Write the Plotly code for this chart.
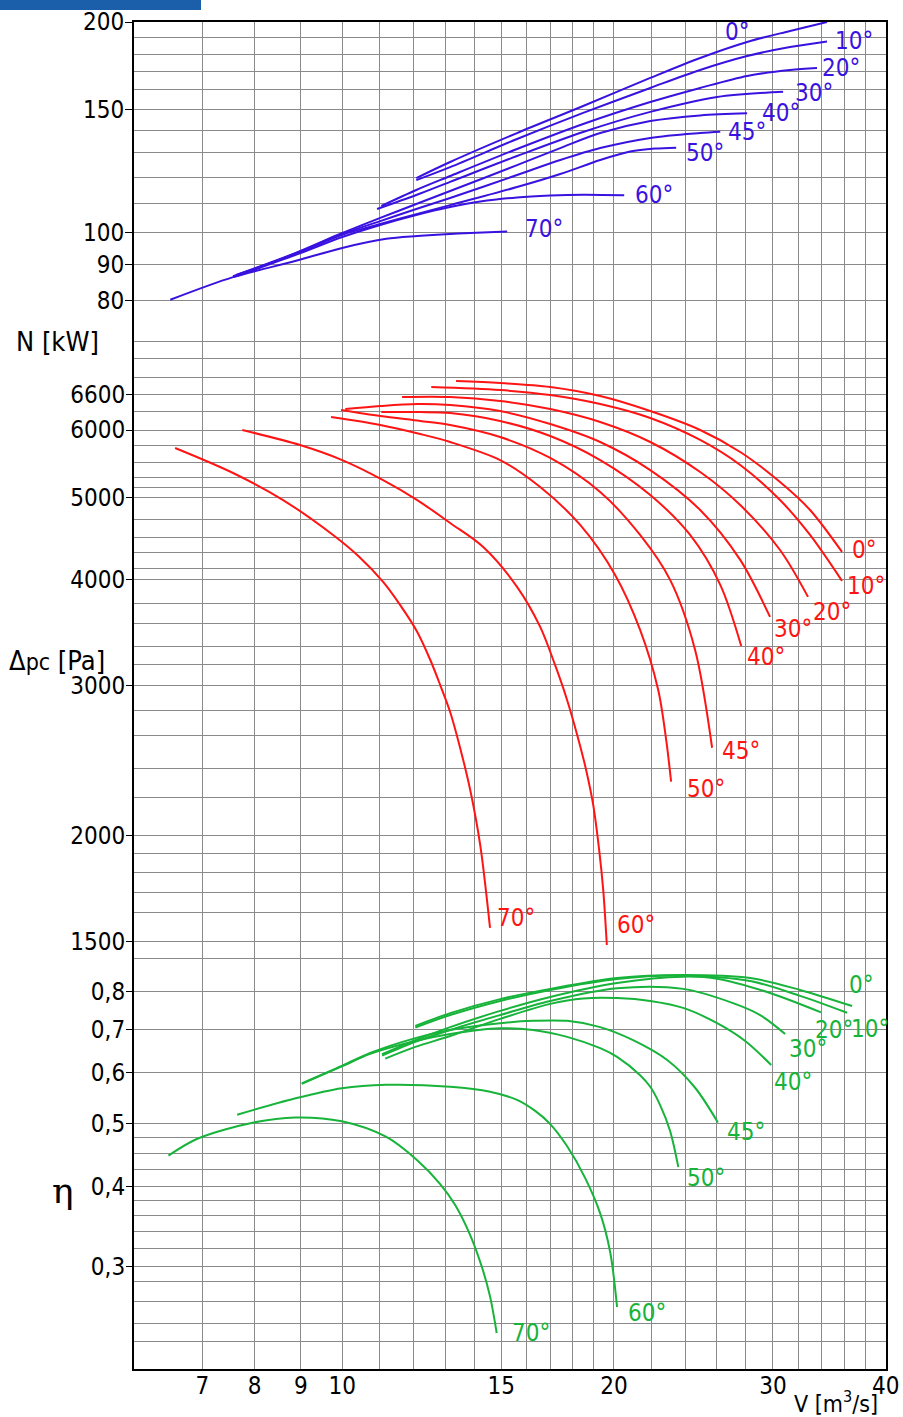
import math
import plotly.graph_objects as go

# ---------------- data ----------------
ANGLES = ["0°", "10°", "20°", "30°", "40°", "45°", "50°", "60°", "70°"]

# Power N [kW] vs V [m3/s]
N00_V = [12.08, 13.17, 15.62, 18.49, 21.94, 24.92, 28.09, 31.34, 34.44]
N00_kW = [119.7, 126.2, 138.8, 151.7, 166.4, 177.7, 187.3, 194.2, 200.0]
N10_V = [12.08, 13.17, 15.62, 18.49, 21.94, 24.92, 28.09, 31.34, 34.44]
N10_kW = [118.9, 124.1, 136.1, 148.3, 161.0, 170.8, 178.8, 184.2, 187.6]
N20_V = [11.05, 12.08, 13.17, 15.62, 18.49, 21.94, 24.92, 28.09, 31.34, 33.57]
N20_kW = [109.2, 115.1, 120.5, 131.7, 143.0, 153.7, 161.0, 167.5, 170.8, 171.9]
N30_V = [10.93, 12.08, 13.17, 15.62, 18.49, 21.94, 26.02, 30.79]
N30_kW = [108.1, 113.2, 118.2, 128.7, 139.3, 148.8, 156.3, 159.0]
N40_V = [7.63, 8.87, 10.0, 11.02, 12.08, 13.17, 15.62, 17.44, 19.31, 21.94, 24.92, 28.09]
N40_kW = [87.0, 93.5, 99.9, 105.0, 109.9, 114.7, 124.9, 132.1, 138.8, 144.4, 147.1, 148.1]
N45_V = [7.63, 8.87, 10.0, 11.02, 12.08, 13.17, 15.62, 17.44, 19.31, 21.94, 24.92, 26.23]
N45_kW = [86.7, 93.4, 99.6, 103.9, 108.1, 112.1, 120.9, 127.0, 132.1, 136.6, 138.8, 139.4]
N50_V = [7.57, 8.87, 10.0, 11.02, 12.08, 13.17, 15.62, 17.44, 19.31, 20.84, 22.21, 23.44]
N50_kW = [86.7, 93.2, 99.3, 102.9, 106.3, 109.5, 116.2, 121.3, 127.0, 130.6, 131.9, 132.3]
N60_V = [7.57, 8.87, 10.0, 11.02, 12.08, 13.17, 14.22, 15.62, 17.0, 18.49, 20.53]
N60_kW = [86.4, 92.9, 98.6, 102.6, 106.0, 108.8, 110.8, 112.3, 113.0, 113.3, 113.1]
N70_V = [6.45, 7.57, 8.87, 10.0, 11.19, 12.11, 13.17, 13.86, 15.23]
N70_kW = [80.2, 86.4, 91.1, 95.1, 98.0, 98.9, 99.6, 99.9, 100.4]

# Total pressure dpc [Pa] vs V [m3/s]
P00_V = [13.37, 14.96, 17.0, 19.31, 21.94, 24.92, 27.6, 30.55, 32.98, 35.78]
P00_Pa = [6851, 6814, 6740, 6578, 6316, 6000, 5653, 5211, 4831, 4312]
P10_V = [12.55, 14.96, 17.0, 19.31, 21.94, 24.92, 27.6, 30.55, 32.98, 35.78]
P10_Pa = [6740, 6686, 6596, 6437, 6198, 5840, 5457, 4963, 4515, 3987]
P20_V = [11.65, 13.17, 14.96, 17.0, 19.31, 21.94, 24.92, 27.6, 30.55, 32.81]
P20_Pa = [6560, 6560, 6490, 6350, 6131, 5808, 5354, 4896, 4335, 3818]
P30_V = [10.08, 11.02, 12.11, 13.17, 14.96, 17.0, 19.31, 21.94, 24.92, 27.6, 29.78]
P30_Pa = [6350, 6402, 6437, 6419, 6316, 6098, 5808, 5383, 4831, 4220, 3616]
P40_V = [11.05, 12.2, 13.17, 14.96, 17.0, 19.31, 21.94, 24.29, 26.23, 27.67]
P40_Pa = [6299, 6299, 6282, 6148, 5903, 5531, 5031, 4515, 3944, 3343]
P45_V = [9.97, 11.02, 12.2, 13.17, 14.96, 17.0, 19.31, 21.38, 23.08, 24.6, 25.69]
P45_Pa = [6333, 6231, 6148, 6082, 5887, 5562, 5072, 4515, 3998, 3307, 2537]
P50_V = [9.72, 11.02, 12.2, 13.17, 14.96, 16.57, 18.35, 20.06, 21.38, 22.39, 22.85, 23.14]
P50_Pa = [6214, 6082, 5935, 5808, 5531, 5141, 4639, 4052, 3491, 2967, 2592, 2314]
P60_V = [7.75, 8.98, 10.0, 11.1, 12.11, 13.17, 14.33, 15.62, 16.57, 17.21, 17.75, 18.21,
         18.63, 18.97, 19.26, 19.46, 19.64]
P60_Pa = [6000, 5761, 5531, 5239, 4963, 4664, 4370, 3923, 3520, 3175, 2886, 2627,
          2389, 2173, 1923, 1726, 1487]
P70_V = [6.53, 7.57, 8.6, 9.77, 10.42, 11.1, 11.59, 12.11, 12.52, 12.84, 13.17, 13.51, 13.86, 14.22, 14.58]
P70_Pa = [5714, 5340, 4963, 4515, 4265, 3976, 3736, 3472, 3218, 3007, 2795, 2536, 2264, 1949, 1557]

# Efficiency eta vs V [m3/s]
E00_V = [12.05, 13.17, 14.96, 17.0, 20.16, 23.86, 28.31, 32.15, 36.72]
E00 = [0.708, 0.741, 0.779, 0.808, 0.840, 0.849, 0.840, 0.805, 0.760]
E10_V = [12.05, 13.17, 14.96, 17.0, 20.16, 23.86, 28.31, 32.15, 36.25]
E10 = [0.704, 0.736, 0.774, 0.805, 0.837, 0.847, 0.831, 0.788, 0.742]
E20_V = [11.07, 12.05, 13.17, 14.96, 17.0, 20.16, 23.86, 26.02, 29.56, 33.92]
E20 = [0.640, 0.673, 0.705, 0.747, 0.785, 0.825, 0.844, 0.838, 0.799, 0.743]
E30_V = [11.07, 12.05, 13.17, 14.96, 17.0, 20.16, 23.86, 27.1, 29.04, 30.95]
E30 = [0.637, 0.669, 0.698, 0.736, 0.774, 0.810, 0.808, 0.768, 0.736, 0.688]
E40_V = [11.16, 12.05, 13.17, 14.96, 17.0, 18.49, 20.16, 21.94, 23.86, 26.02, 27.95, 29.87]
E40 = [0.630, 0.657, 0.683, 0.726, 0.766, 0.781, 0.782, 0.774, 0.755, 0.715, 0.671, 0.616]
E45_V = [9.02, 9.99, 10.74, 12.05, 13.17, 14.96, 16.27, 17.75, 19.31, 21.0, 22.91, 24.6, 26.07]
E45 = [0.577, 0.614, 0.643, 0.678, 0.698, 0.715, 0.721, 0.721, 0.705, 0.673, 0.627, 0.568, 0.502]
E50_V = [9.02, 9.99, 10.74, 12.05, 13.17, 14.96, 16.27, 17.75, 19.31, 20.16, 21.38, 21.94, 22.50,
         23.08, 23.57]
E50 = [0.576, 0.613, 0.641, 0.671, 0.688, 0.702, 0.698, 0.681, 0.654, 0.634, 0.594, 0.570, 0.534,
       0.487, 0.428]
E60_V = [7.65, 8.88, 9.99, 11.18, 13.17, 14.58, 15.62, 16.36, 17.0, 17.75, 18.58, 19.31, 19.81, 20.16]
E60 = [0.516, 0.547, 0.567, 0.574, 0.570, 0.560, 0.544, 0.523, 0.499, 0.461, 0.412, 0.363, 0.316, 0.260]
E70_V = [6.42, 6.92, 7.98, 8.88, 9.99, 11.18, 12.10, 12.84, 13.34, 13.86, 14.29, 14.58, 14.83]
E70 = [0.446, 0.474, 0.502, 0.511, 0.504, 0.477, 0.439, 0.403, 0.374, 0.336, 0.299, 0.270, 0.237]

# Axis ticks
X_TICKS = [7, 8, 9, 10, 15, 20, 30, 40]
X_MINOR = [11, 12, 13, 14, 16, 17, 18, 19, 22, 24, 26, 28, 32, 34, 36, 38]
N_TICKS = [80, 90, 100, 150, 200]
N_MINOR = [70, 110, 120, 130, 140, 160, 170, 180, 190]
P_TICKS = [1500, 2000, 3000, 4000, 5000, 6000, 6600]
P_MINOR = [1435, 1625, 1715, 1810, 1905, 2215, 2400, 2620, 2810, 3175, 3340, 3550,
           3750, 4120, 4310, 4490, 4710, 5130, 5270, 5500, 5750, 6300, 6920, 7280]
E_TICKS = [0.3, 0.4, 0.5, 0.6, 0.7, 0.8]
E_TICKTEXT = ["0,3", "0,4", "0,5", "0,6", "0,7", "0,8"]
E_MINOR = [0.23, 0.245, 0.265, 0.285, 0.32, 0.34, 0.36, 0.38, 0.425, 0.45, 0.475]

# ---------------- tables built from the arrays ----------------
N_SERIES = [(N00_V, N00_kW), (N10_V, N10_kW), (N20_V, N20_kW), (N30_V, N30_kW), (N40_V, N40_kW),
            (N45_V, N45_kW), (N50_V, N50_kW), (N60_V, N60_kW), (N70_V, N70_kW)]
P_SERIES = [(P00_V, P00_Pa), (P10_V, P10_Pa), (P20_V, P20_Pa), (P30_V, P30_Pa), (P40_V, P40_Pa),
            (P45_V, P45_Pa), (P50_V, P50_Pa), (P60_V, P60_Pa), (P70_V, P70_Pa)]
E_SERIES = [(E00_V, E00), (E10_V, E10), (E20_V, E20), (E30_V, E30), (E40_V, E40),
            (E45_V, E45), (E50_V, E50), (E60_V, E60), (E70_V, E70)]

# ---------------- styles ----------------
FONT = "DejaVu Sans Condensed, Liberation Sans Narrow, Arial Narrow, Liberation Sans, sans-serif"
BLUE = "#3a12e0"
RED = "#ff1414"
GREEN = "#17b33a"
GRID = "#8a8a8a"

# label offsets (xanchor, xshift px, yshift px) relative to each curve's last point
N_LAB = [("center", -90, -10), ("left", 6, 0), ("left", 3, 0), ("left", 10, -1), ("left", 13, 0),
         ("left", 6, 0), ("left", 8, -5), ("left", 9, 0), ("left", 16, 3)]
P_LAB = [("left", 8, 2), ("left", 3, -5), ("left", 3, -15), ("left", 2, -12), ("left", 4, -11),
         ("left", 8, -3), ("left", 14, -7), ("left", 8, 20), ("left", 5, 10)]
E_LAB = [("left", -5, 21), ("left", 2, -16), ("left", -8, -18), ("left", 2, -15), ("left", 1, -17),
         ("left", 7, -10), ("left", 7, -11), ("left", 9, -6), ("left", 13, 0)]

fig = go.Figure()
annotations = []


def add_group(series, labs, color, yref):
    for (xs, ys), ang, (xa, dx, dy) in zip(series, ANGLES, labs):
        fig.add_trace(go.Scatter(
            x=xs, y=ys, mode="lines", yaxis=yref,
            line=dict(color=color, width=2, shape="spline", smoothing=0.9),
            hoverinfo="skip", showlegend=False))
        annotations.append(dict(
            x=math.log10(xs[-1]), y=math.log10(ys[-1]), xref="x", yref=yref,
            text=ang, showarrow=False, xanchor=xa, yanchor="middle",
            xshift=dx, yshift=dy, font=dict(family=FONT, size=24, color=color)))


add_group(N_SERIES, N_LAB, BLUE, "y")
add_group(P_SERIES, P_LAB, RED, "y2")
add_group(E_SERIES, E_LAB, GREEN, "y3")

# plot area: 134..886 px wide, 22..1369 px high
W, H = 903, 1417
ML, MR, MT, MB = 134, 17, 22, 48
PH = H - MT - MB

tickfont = dict(family=FONT, size=24, color="black")
common_y = dict(type="log", showgrid=True, gridcolor=GRID, gridwidth=1,
                ticks="outside", ticklen=7, tickcolor="black", tickfont=tickfont,
                zeroline=False, fixedrange=True, automargin=False)

# each axis spans the whole height; ranges chosen so its band sits where the picture has it
fig.update_layout(
    width=W, height=H,
    margin=dict(l=ML, r=MR, t=MT, b=MB, autoexpand=False),
    paper_bgcolor="white", plot_bgcolor="white",
    xaxis=dict(type="log", range=[math.log10(5.88), math.log10(40.03)],
               tickvals=X_TICKS, ticktext=[str(v) for v in X_TICKS],
               showgrid=True, gridcolor=GRID, gridwidth=1,
               minor=dict(tickvals=X_MINOR, showgrid=True, gridcolor=GRID, gridwidth=1, ticks=""),
               ticks="", tickfont=tickfont, showline=True, linecolor="black", linewidth=2,
               mirror=True, zeroline=False, automargin=False, fixedrange=True),
    yaxis=dict(range=[2.30103 - PH / 700.0, 2.30103], tickvals=N_TICKS,
               ticktext=[str(v) for v in N_TICKS],
               minor=dict(tickvals=N_MINOR, showgrid=True, gridcolor=GRID, gridwidth=1, ticks=""),
               showline=True, linecolor="black", linewidth=2, mirror=True, **common_y),
    yaxis2=dict(range=[math.log10(6000) - (PH - 408) / 850.0, math.log10(6000) + 408 / 850.0],
                tickvals=P_TICKS, ticktext=[str(v) for v in P_TICKS],
                minor=dict(tickvals=P_MINOR, showgrid=True, gridcolor=GRID, gridwidth=1, ticks=""),
                overlaying="y", side="left", showline=False, **common_y),
    yaxis3=dict(range=[(1074.7 - PH) / 646.0 - 0.2595, 1074.7 / 646.0 - 0.2595],
                tickvals=E_TICKS, ticktext=E_TICKTEXT,
                minor=dict(tickvals=E_MINOR, showgrid=True, gridcolor=GRID, gridwidth=1, ticks=""),
                overlaying="y", side="left", showline=False, **common_y),
    showlegend=False,
)

# pull the tick labels a little closer to the frame, as in the picture
try:
    fig.update_xaxes(ticklabelstandoff=-6)
    fig.update_layout(yaxis=dict(ticklabelstandoff=-4), yaxis2=dict(ticklabelstandoff=-4),
                      yaxis3=dict(ticklabelstandoff=-4))
except Exception:
    pass


def px_x(p):
    return (p - ML) / (W - ML - MR)


def px_y(p):
    return (H - MB - p) / PH


titlefont = dict(family=FONT, size=27, color="black")
annotations += [
    dict(x=px_x(57), y=px_y(341), xref="paper", yref="paper", text="N [kW]", showarrow=False,
         xanchor="center", yanchor="middle", font=titlefont),
    dict(x=px_x(57), y=px_y(660), xref="paper", yref="paper",
         text="Δ<span style='font-size:23px'>pc</span> [Pa]", showarrow=False,
         xanchor="center", yanchor="middle", font=titlefont),
    dict(x=px_x(63), y=px_y(1190), xref="paper", yref="paper", text="η", showarrow=False,
         xanchor="center", yanchor="middle",
         font=dict(family="DejaVu Serif, serif", size=36, color="black")),
    dict(x=px_x(836), y=px_y(1402), xref="paper", yref="paper",
         text="V [m<sup>3</sup>/s]", showarrow=False,
         xanchor="center", yanchor="middle", font=dict(family=FONT, size=23, color="black")),
]
fig.update_layout(annotations=annotations)

# decorative blue bar at the top-left of the page
fig.add_shape(type="rect", xref="paper", yref="paper",
              x0=px_x(0), x1=px_x(201), y0=px_y(10), y1=px_y(0),
              fillcolor="#1b5eaa", line=dict(width=0), layer="above")

fig.write_html("out.html", config={"displayModeBar": False, "staticPlot": True},
               post_script="document.body.style.margin='0px';document.body.style.padding='0px';")
